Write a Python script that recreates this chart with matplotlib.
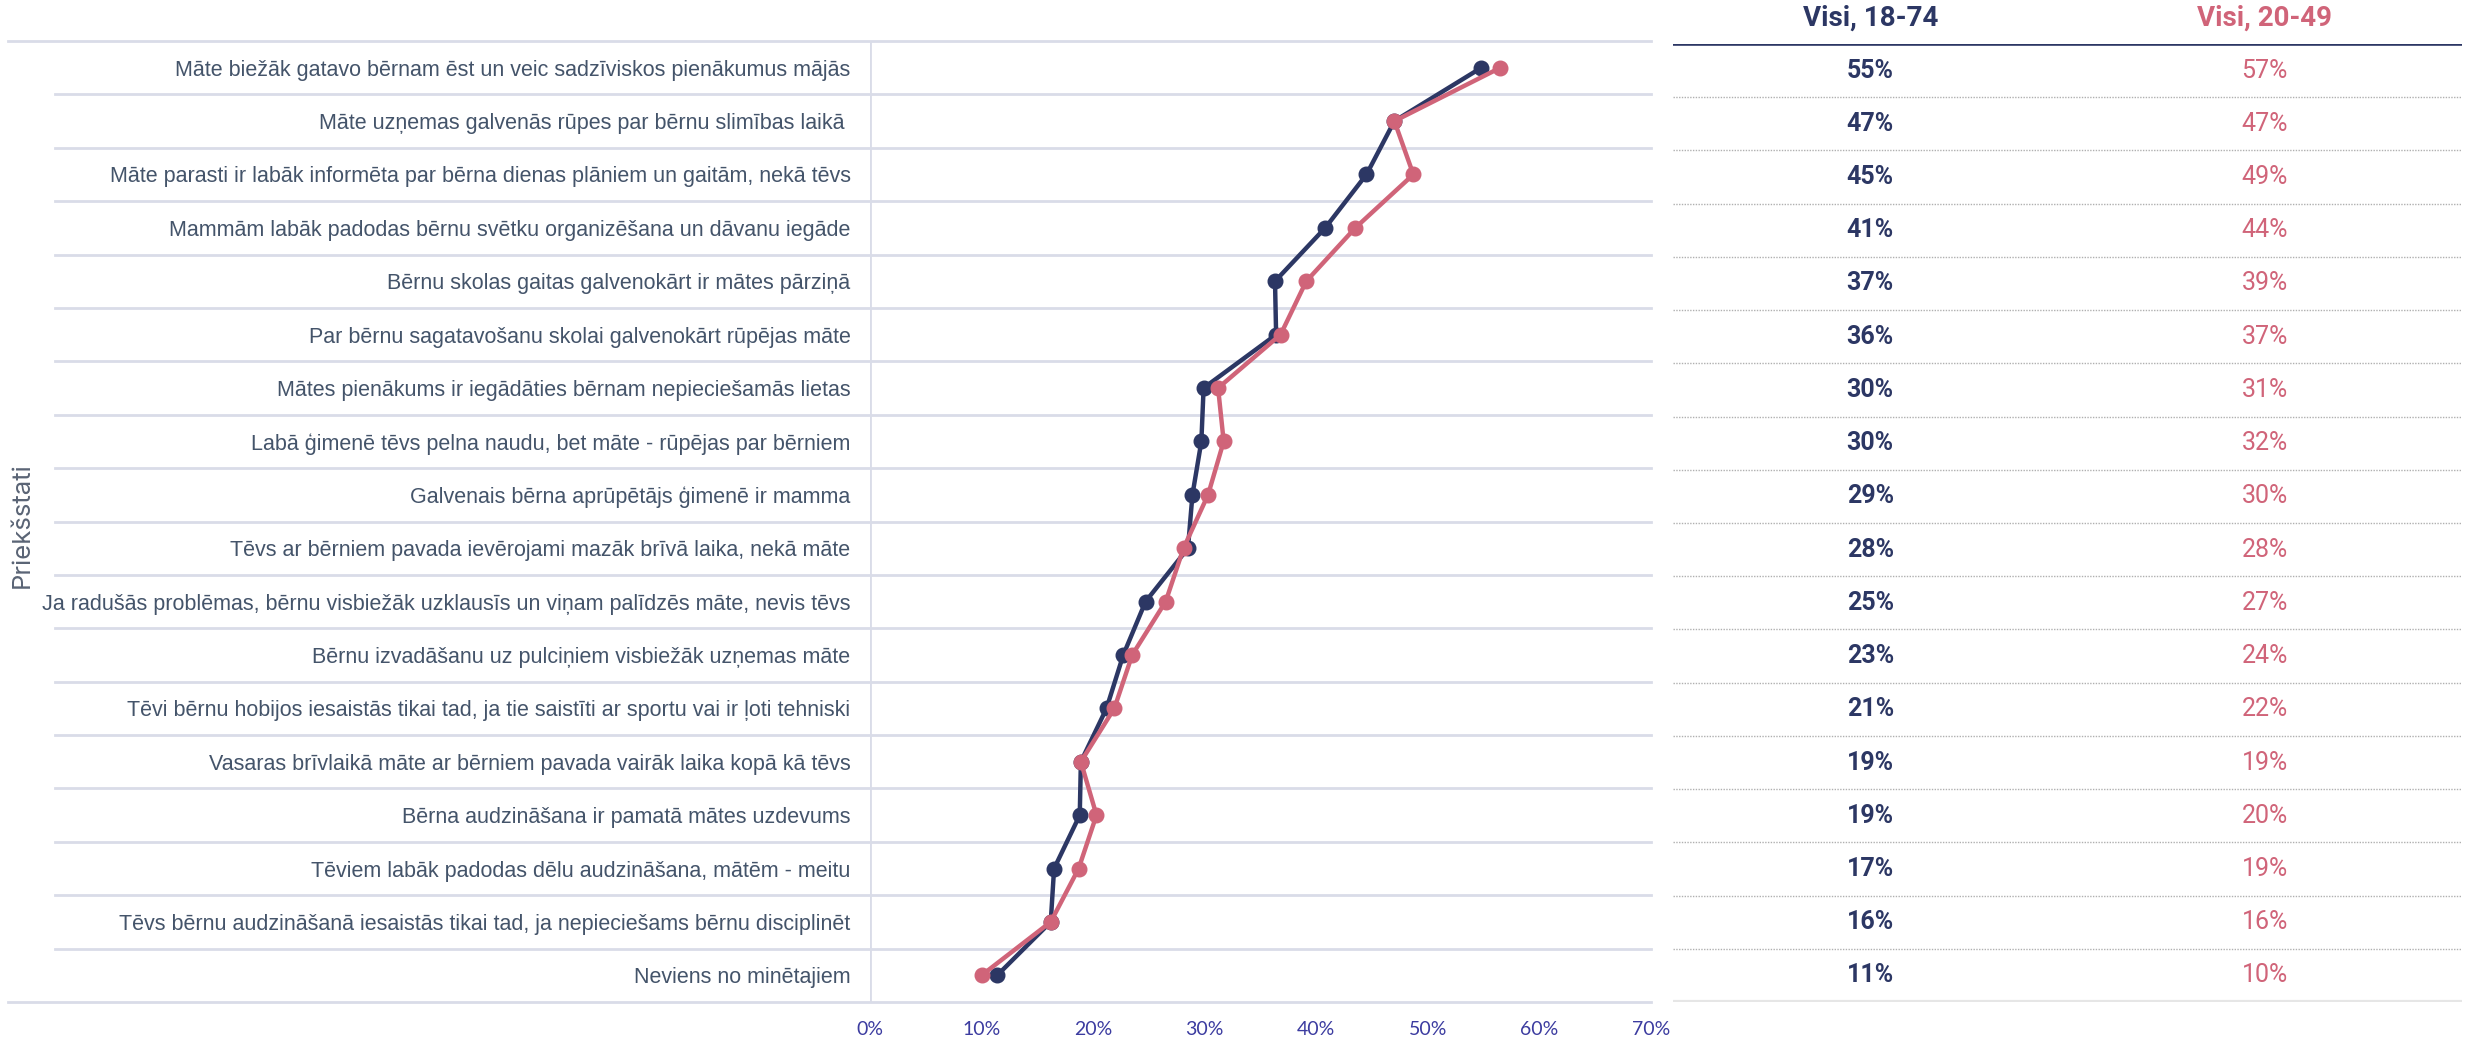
import matplotlib.pyplot as plt
import numpy as np

# statements (top to bottom)
labels = [
    "Māte biežāk gatavo bērnam ēst un veic sadzīviskos pienākumus mājās",
    "Māte uzņemas galvenās rūpes par bērnu slimības laikā ",
    "Māte parasti ir labāk informēta par bērna dienas plāniem un gaitām, nekā tēvs",
    "Mammām labāk padodas bērnu svētku organizēšana un dāvanu iegāde",
    "Bērnu skolas gaitas galvenokārt ir mātes pārziņā",
    "Par bērnu sagatavošanu skolai galvenokārt rūpējas māte",
    "Mātes pienākums ir iegādāties bērnam nepieciešamās lietas",
    "Labā ģimenē tēvs pelna naudu, bet māte - rūpējas par bērniem",
    "Galvenais bērna aprūpētājs ģimenē ir mamma",
    "Tēvs ar bērniem pavada ievērojami mazāk brīvā laika, nekā māte",
    "Ja radušās problēmas, bērnu visbiežāk uzklausīs un viņam palīdzēs māte, nevis tēvs",
    "Bērnu izvadāšanu uz pulciņiem visbiežāk uzņemas māte",
    "Tēvi bērnu hobijos iesaistās tikai tad, ja tie saistīti ar sportu vai ir ļoti tehniski",
    "Vasaras brīvlaikā māte ar bērniem pavada vairāk laika kopā kā tēvs",
    "Bērna audzināšana ir pamatā mātes uzdevums",
    "Tēviem labāk padodas dēlu audzināšana, mātēm - meitu",
    "Tēvs bērnu audzināšanā iesaistās tikai tad, ja nepieciešams bērnu disciplinēt",
    "Neviens no minētajiem",
]

# plotted values (%)
visi_18_74 = [54.8, 47.0, 44.5, 40.8, 36.3, 36.4, 29.9, 29.7, 28.9, 28.5,
              24.7, 22.7, 21.2, 18.9, 18.8, 16.5, 16.2, 11.4]
visi_20_49 = [56.5, 47.0, 48.7, 43.5, 39.1, 36.8, 31.2, 31.7, 30.3, 28.1,
              26.5, 23.5, 21.9, 18.9, 20.3, 18.7, 16.2, 10.0]

# table values as printed
tab_18_74 = [55, 47, 45, 41, 37, 36, 30, 30, 29, 28, 25, 23, 21, 19, 19, 17, 16, 11]
tab_20_49 = [57, 47, 49, 44, 39, 37, 31, 32, 30, 28, 27, 24, 22, 19, 20, 19, 16, 10]

col_names = ["Visi, 18-74", "Visi, 20-49"]
xticks = [0, 10, 20, 30, 40, 50, 60, 70]

navy = '#2c3764'
pink = '#d06479'
txt = '#44546a'
grid = '#d9dce8'

W, H = 2468, 1040
fig = plt.figure(figsize=(W / 100, H / 100), dpi=100)

ax = fig.add_axes([870 / W, 1 - 1002 / H, (1651 - 870) / W, (1002 - 41) / H])
n = len(labels)
y = np.arange(n)
ax.set_xlim(0, 70)
ax.set_ylim(n - 0.5, -0.5)

for k in range(n + 1):
    xmin = -1.104 if k in (0, n) else -1.044
    ax.axhline(k - 0.5, xmin=xmin, xmax=1, color=grid, lw=2, clip_on=False, zorder=1)
ax.axvline(0, color=grid, lw=2, zorder=1)

ax.plot(visi_18_74, y, color=navy, lw=3.2, marker='o', ms=10.5, zorder=3)
ax.plot(visi_20_49, y, color=pink, lw=3.2, marker='o', ms=10.5, zorder=4)

for s in ax.spines.values():
    s.set_visible(False)
ax.set_yticks(y)
ax.set_yticklabels(labels, fontsize=15.5, color=txt, family='Liberation Sans')
ax.set_xticks(xticks)
ax.set_xticklabels([f"{v}%" for v in xticks], fontsize=14, color='#3c3ca0', family='Lato')
ax.tick_params(axis='y', length=0, pad=14)
ax.tick_params(axis='x', length=0, pad=14)

fig.text(22 / W, 1 - 525 / H, "Priekšstati", rotation=90, ha='center', va='center',
         fontsize=18.5, color='#5a6475', family='Inter')

# table on the right
tax = fig.add_axes([1673 / W, 1 - 1002 / H, (2462 - 1673) / W, (1002 - 44) / H])
tax.set_xlim(0, 1)
tax.set_ylim(n - 0.5, -0.5)
tax.axis('off')
tax.axhline(-0.5, color=navy, lw=2.6)
for k in range(1, n):
    tax.axhline(k - 0.5, color='#b0b0b0', lw=1, ls=(0, (1, 1)))
tax.axhline(n - 0.5, color='#e6e6e6', lw=3)

tax.text(0.25, 1 + 26 / 958, col_names[0], transform=tax.transAxes, ha='center', va='center',
         fontsize=20, fontweight='bold', color=navy, family='Roboto')
tax.text(0.75, 1 + 26 / 958, col_names[1], transform=tax.transAxes, ha='center', va='center',
         fontsize=20, fontweight='bold', color=pink, family='Roboto')
for i in range(n):
    tax.text(0.25, i, f"{tab_18_74[i]}%", ha='center', va='center', fontsize=18,
             fontweight='bold', color=navy, family='Roboto')
    tax.text(0.75, i, f"{tab_20_49[i]}%", ha='center', va='center', fontsize=18,
             color=pink, family='Roboto')

fig.savefig('out.png', dpi=100)
